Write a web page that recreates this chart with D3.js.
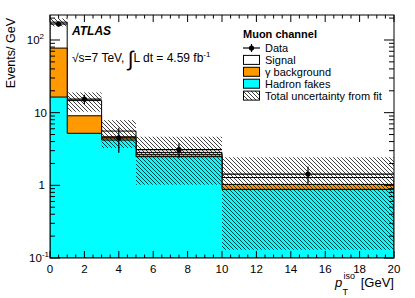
<!DOCTYPE html>
<meta charset="utf-8">
<head>
	<title>Muon channel pT iso</title>
	<script type="text/javascript" src="https://cdn.jsdelivr.net/npm/d3@7"></script>
	<style>
		body { margin: 0; background: #fff; }
		svg text { font-family: "Liberation Sans", Arial, Helvetica, sans-serif; fill: #000; }
	</style>
</head>

<body>
	<div id="chart"></div>
</body>

<script>
	// bin edges in GeV, per-bin contents in Events/GeV
	var binEdges = [0, 1, 3, 5, 10, 20];
	var hadronFakes = [16.4, 5.2, 4.2, 2.48, 0.88];
	var gammaBkg = [61, 3.86, 0.46, 0.19, 0.15];
	var signal = [98.6, 5.6, 0.92, 0.17, 0.25];
	var fitUnc = [22, 4.35, 2.3, 1.82, 1.15];
	var dataVal = [166, 15.4, 4.5, 3.1, 1.43];
	var dataErr = [13, 2.3, 1.7, 0.7, 0.38];
	var xTicks = [0, 2, 4, 6, 8, 10, 12, 14, 16, 18, 20];

	var width = 415, height = 298;
	var x = d3.scaleLinear().domain([0, 20]).range([50, 394]);
	var y = d3.scaleLog().domain([0.1, 220.8]).range([258, 15]);

	var svg = d3.select("#chart").append("svg")
		.attr("width", width)
		.attr("height", height);

	var defs = svg.append("defs");
	defs.append("pattern")
		.attr("id", "hatch")
		.attr("patternUnits", "userSpaceOnUse")
		.attr("width", 4).attr("height", 4)
		.append("path")
		.attr("d", "M-1,-1L5,5M-1,3L1,5M3,-1L5,1")
		.attr("stroke", "#000")
		.attr("stroke-width", 0.75);
	defs.append("clipPath").attr("id", "frameclip")
		.append("rect")
		.attr("x", x(0)).attr("y", y(220.8))
		.attr("width", x(20) - x(0)).attr("height", y(0.1) - y(220.8));

	var bins = d3.range(binEdges.length - 1).map(function(i) {
		return {
			lo: binEdges[i], hi: binEdges[i + 1],
			h: hadronFakes[i],
			g: hadronFakes[i] + gammaBkg[i],
			s: hadronFakes[i] + gammaBkg[i] + signal[i],
			unc: fitUnc[i], d: dataVal[i], e: dataErr[i]
		};
	});

	var plot = svg.append("g").attr("clip-path", "url(#frameclip)");

	// step outline of a cumulative histogram, closed down to the frame bottom
	function stepPath(key) {
		var p = "M" + x(bins[0].lo) + "," + y(0.1);
		bins.forEach(function(b) {
			p += "L" + x(b.lo) + "," + y(b[key]) + "L" + x(b.hi) + "," + y(b[key]);
		});
		p += "L" + x(bins[bins.length - 1].hi) + "," + y(0.1) + "Z";
		return p;
	}

	// THStack style: total drawn first, lower ones on top
	[["s", "#ffffff"], ["g", "#ff9900"], ["h", "#00ffff"]].forEach(function(c) {
		plot.append("path")
			.attr("d", stepPath(c[0]))
			.attr("fill", c[1])
			.attr("stroke", "#000")
			.attr("stroke-width", 1);
	});

	// uncertainty band from fit
	plot.selectAll("rect.unc").data(bins).enter().append("rect")
		.attr("class", "unc")
		.attr("x", function(b) { return x(b.lo); })
		.attr("width", function(b) { return x(b.hi) - x(b.lo); })
		.attr("y", function(b) { return y(b.s + b.unc); })
		.attr("height", function(b) { return y(Math.max(b.s - b.unc, 0.1)) - y(b.s + b.unc); })
		.attr("fill", "url(#hatch)");

	// data with x and y error bars
	var dg = plot.selectAll("g.data").data(bins).enter().append("g").attr("class", "data");
	dg.append("line")
		.attr("x1", function(b) { return x(b.lo); })
		.attr("x2", function(b) { return x(b.hi); })
		.attr("y1", function(b) { return y(b.d); })
		.attr("y2", function(b) { return y(b.d); })
		.attr("stroke", "#000").attr("stroke-width", 1.2);
	dg.append("line")
		.attr("x1", function(b) { return x((b.lo + b.hi) / 2); })
		.attr("x2", function(b) { return x((b.lo + b.hi) / 2); })
		.attr("y1", function(b) { return y(b.d + b.e); })
		.attr("y2", function(b) { return y(b.d - b.e); })
		.attr("stroke", "#000").attr("stroke-width", 1.2);
	dg.append("circle")
		.attr("cx", function(b) { return x((b.lo + b.hi) / 2); })
		.attr("cy", function(b) { return y(b.d); })
		.attr("r", 2.6)
		.attr("fill", "#000");

	// frame and ticks
	var ax = svg.append("g").attr("stroke", "#000").attr("stroke-width", 1);
	ax.append("rect")
		.attr("x", x(0)).attr("y", y(220.8))
		.attr("width", x(20) - x(0)).attr("height", y(0.1) - y(220.8))
		.attr("fill", "none");

	var xMinor = d3.range(0, 20.01, 0.5);
	xMinor.forEach(function(v) {
		var len = (v % 2 === 0) ? 7 : 3.5;
		ax.append("line").attr("x1", x(v)).attr("x2", x(v))
			.attr("y1", y(0.1)).attr("y2", y(0.1) - len);
		ax.append("line").attr("x1", x(v)).attr("x2", x(v))
			.attr("y1", y(220.8)).attr("y2", y(220.8) + len);
	});

	var yTickVals = [];
	[0.1, 1, 10, 100].forEach(function(dec) {
		for (var k = 1; k <= 9; k++) {
			if (dec * k <= 220.8) yTickVals.push({ v: dec * k, major: k === 1 });
		}
	});
	yTickVals.forEach(function(t) {
		var len = t.major ? 10 : 5;
		ax.append("line").attr("x1", x(0)).attr("x2", x(0) + len)
			.attr("y1", y(t.v)).attr("y2", y(t.v));
		ax.append("line").attr("x1", x(20)).attr("x2", x(20) - len)
			.attr("y1", y(t.v)).attr("y2", y(t.v));
	});

	// tick labels
	svg.selectAll("text.xlab").data(xTicks).enter().append("text")
		.attr("class", "xlab")
		.attr("x", function(d) { return x(d); })
		.attr("y", 273)
		.attr("text-anchor", "middle")
		.style("font-size", "11.5px")
		.text(function(d) { return d; });

	var yLabels = [
		{ v: 0.1, base: "10", sup: "-1", xr: 49 },
		{ v: 1, base: "1", sup: "", xr: 45 },
		{ v: 10, base: "10", sup: "", xr: 47 },
		{ v: 100, base: "10", sup: "2", xr: 44 }
	];
	yLabels.forEach(function(l) {
		var t = svg.append("text")
			.attr("x", l.xr).attr("y", y(l.v) + 4)
			.attr("text-anchor", "end")
			.style("font-size", "11.5px");
		t.append("tspan").text(l.base);
		if (l.sup) {
			t.append("tspan").attr("dy", -5).style("font-size", "8px").text(l.sup);
		}
	});

	// axis titles
	svg.append("text")
		.attr("transform", "translate(15,18) rotate(-90)")
		.attr("text-anchor", "end")
		.style("font-size", "12.5px")
		.text("Events/ GeV");

	svg.append("text")
		.attr("x", 394).attr("y", 287)
		.attr("text-anchor", "end")
		.style("font-size", "13px")
		.text("[GeV]");
	svg.append("text")
		.attr("x", 335).attr("y", 287)
		.style("font-size", "13px")
		.style("font-style", "italic")
		.text("p");
	svg.append("text")
		.attr("x", 343.5).attr("y", 279)
		.style("font-size", "9px")
		.text("iso");
	svg.append("text")
		.attr("x", 342.5).attr("y", 295)
		.style("font-size", "9px")
		.text("T");

	// ATLAS label and luminosity
	svg.append("text")
		.attr("x", 72).attr("y", 35)
		.style("font-size", "12px")
		.style("font-weight", "bold")
		.style("font-style", "italic")
		.text("ATLAS");

	var lum = svg.append("text")
		.attr("x", 72).attr("y", 62)
		.style("font-size", "12px");
	lum.append("tspan").text("\u221As=7 TeV, ");
	lum.append("tspan").attr("dy", 4).style("font-size", "21px").text("\u222B");
	lum.append("tspan").attr("dy", -4).text("L dt = 4.59 fb");
	lum.append("tspan").attr("dy", -5).style("font-size", "8px").text("-1");

	// legend
	var legend = svg.append("g");
	legend.append("text")
		.attr("x", 243).attr("y", 37.5)
		.style("font-size", "11px")
		.style("font-weight", "bold")
		.text("Muon channel");

	var legItems = [
		{ label: "Data", kind: "data" },
		{ label: "Signal", fill: "#ffffff" },
		{ label: "\u03B3 background", fill: "#ff9900" },
		{ label: "Hadron fakes", fill: "#00ffff" },
		{ label: "Total uncertainty from fit", fill: "url(#hatch)" }
	];
	legItems.forEach(function(it, i) {
		var cy = 48 + i * 11.9;
		if (it.kind === "data") {
			legend.append("line").attr("x1", 243).attr("x2", 260).attr("y1", cy).attr("y2", cy)
				.attr("stroke", "#000").attr("stroke-width", 1.2);
			legend.append("line").attr("x1", 251.5).attr("x2", 251.5).attr("y1", cy - 4).attr("y2", cy + 4)
				.attr("stroke", "#000").attr("stroke-width", 1.2);
			legend.append("circle").attr("cx", 251.5).attr("cy", cy).attr("r", 2.6).attr("fill", "#000");
		} else {
			legend.append("rect").attr("x", 243.5).attr("y", cy - 4.5).attr("width", 16).attr("height", 9)
				.attr("fill", it.fill).attr("stroke", "#000").attr("stroke-width", 1);
		}
		legend.append("text")
			.attr("x", 265).attr("y", cy + 4)
			.style("font-size", "11px")
			.text(it.label);
	});
</script>
